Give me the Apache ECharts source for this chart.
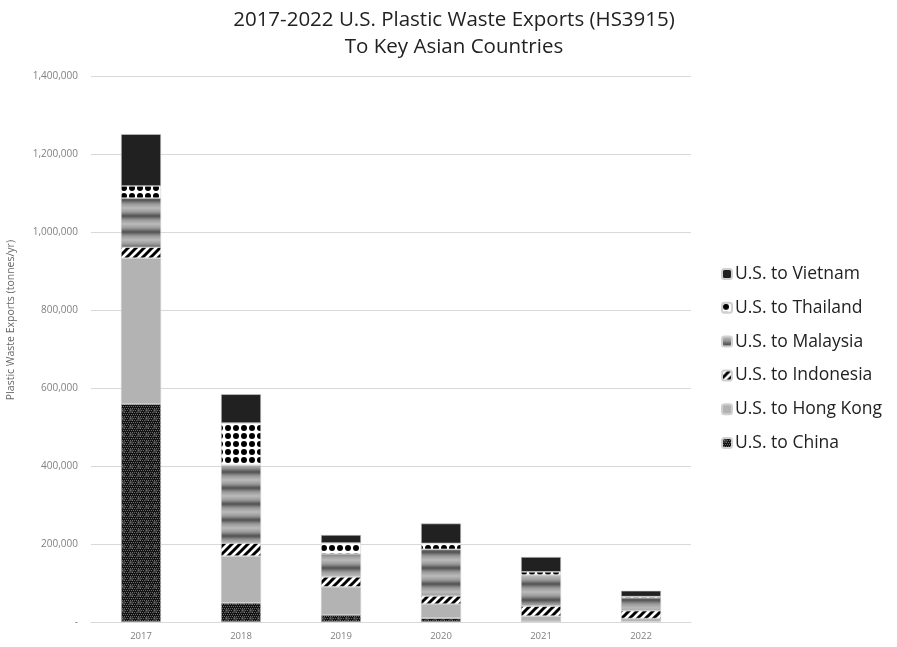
<!DOCTYPE html>
<html>
<head>
<meta charset="utf-8">
<title>2017-2022 U.S. Plastic Waste Exports (HS3915)</title>
<script src="https://cdn.jsdelivr.net/npm/echarts@6/dist/echarts.min.js"></script>
<style>
  html, body { margin: 0; padding: 0; background: #ffffff; }
  #chart { width: 897px; height: 647px; }
</style>
</head>
<body>
<div id="chart"></div>
<script>
// Export years and tonnes per year by destination
const years = ['2017', '2018', '2019', '2020', '2021', '2022'];
const toChina     = [559000,  49000, 18000, 10000,  2000,  1000];
const toHongKong  = [374000, 120000, 72000, 36000, 13000,  8000];
const toIndonesia = [ 28000,  33000, 25600, 20500, 25600, 20000];
const toMalaysia  = [126000, 200000, 59000, 120000, 80000, 33000];
const toThailand  = [ 31000, 108000, 28000, 15000,  8000,  3000];
const toVietnam   = [133000,  74000, 20500, 51000, 38000, 15000];
const yTicks = [0, 200000, 400000, 600000, 800000, 1000000, 1200000, 1400000];

// Fill patterns drawn on small canvases
function tile(w, h, draw) {
  const c = document.createElement('canvas');
  c.width = w; c.height = h;
  draw(c.getContext('2d'), w, h);
  return { image: c, repeat: 'repeat' };
}
const solidDark = '#212121';
const dotted = tile(8, 8, (g, w, h) => {
  g.fillStyle = '#ffffff'; g.fillRect(0, 0, w, h);
  g.fillStyle = '#000000';
  g.beginPath(); g.arc(4, 4, 3, 0, Math.PI * 2); g.fill();
});
const banded = tile(4, 16, (g, w, h) => {
  const gr = g.createLinearGradient(0, 0, 0, h);
  gr.addColorStop(0, '#bababa');
  gr.addColorStop(0.25, '#9a9a9a');
  gr.addColorStop(0.5, '#505050');
  gr.addColorStop(0.75, '#9a9a9a');
  gr.addColorStop(1, '#bababa');
  g.fillStyle = gr; g.fillRect(0, 0, w, h);
});
const hatched = tile(8, 8, (g, w, h) => {
  g.fillStyle = '#ffffff'; g.fillRect(0, 0, w, h);
  g.strokeStyle = '#000000'; g.lineWidth = 3;
  g.beginPath();
  g.moveTo(-2, 10); g.lineTo(10, -2);
  g.moveTo(-6, 6); g.lineTo(6, -6);
  g.moveTo(2, 14); g.lineTo(14, 2);
  g.stroke();
});
const lightGrey = '#b3b3b3';
// dark plaid: black ground with grey speckle blocks
const checkered = tile(8, 8, (g, w, h) => {
  g.fillStyle = '#141414'; g.fillRect(0, 0, w, h);
  g.fillStyle = '#6a6a6a';
  for (let y = 0; y < 8; y += 2) {
    for (let x = (y % 4 === 0 ? 0 : 1); x < 8; x += 2) g.fillRect(x, y, 1, 1);
  }
  g.fillStyle = '#3c3c3c';
  g.fillRect(1, 1, 4, 4);
  g.fillStyle = '#777777';
  g.fillRect(2, 2, 1, 1); g.fillRect(4, 4, 1, 1);
});

function fmt(v) {
  if (v === 0) return '-';
  return String(v).replace(/\B(?=(\d{3})+(?!\d))/g, ',');
}

const seriesDefs = [
  { name: 'U.S. to China', data: toChina, color: checkered },
  { name: 'U.S. to Hong Kong', data: toHongKong, color: lightGrey },
  { name: 'U.S. to Indonesia', data: toIndonesia, color: hatched },
  { name: 'U.S. to Malaysia', data: toMalaysia, color: banded },
  { name: 'U.S. to Thailand', data: toThailand, color: dotted },
  { name: 'U.S. to Vietnam', data: toVietnam, color: solidDark }
];

const font = "'Open Sans', 'Noto Sans', sans-serif";
const chart = echarts.init(document.getElementById('chart'), null, { renderer: 'canvas' });
chart.setOption({
  animation: false,
  backgroundColor: '#ffffff',
  title: {
    text: '2017-2022 U.S. Plastic Waste Exports (HS3915)\nTo Key Asian Countries',
    left: 449, top: 2, textAlign: 'center',
    textStyle: { fontFamily: font, fontSize: 20.5, fontWeight: 'normal', color: '#222222', lineHeight: 27 }
  },
  legend: {
    orient: 'vertical',
    left: 716, top: 258,
    itemWidth: 10, itemHeight: 10, itemGap: 11.8,
    data: seriesDefs.map(s => s.name).reverse(),
    textStyle: { fontFamily: font, fontSize: 17.5, color: '#222222', lineHeight: 22, padding: [0, 0, 0, -2] }
  },
  grid: { left: 91, top: 76, width: 600, height: 546 },
  xAxis: {
    type: 'category',
    data: years,
    axisLine: { lineStyle: { color: '#d9d9d9', width: 1 } },
    axisTick: { show: false },
    axisLabel: { color: '#808080', fontSize: 9.5, fontFamily: font, margin: 9 }
  },
  yAxis: {
    type: 'value',
    min: yTicks[0], max: yTicks[yTicks.length - 1], interval: yTicks[1] - yTicks[0],
    axisLine: { show: false },
    axisTick: { show: false },
    splitLine: { lineStyle: { color: '#d9d9d9', width: 1 } },
    axisLabel: { color: '#808080', fontSize: 10, fontFamily: font, margin: 13, formatter: fmt }
  },
  graphic: [{
    type: 'text',
    left: 6, top: 240,
    rotation: Math.PI / 2,
    style: { text: 'Plastic Waste Exports (tonnes/yr)', fill: '#666666', font: "10.5px 'Open Sans', sans-serif" }
  }],
  series: seriesDefs.map(s => ({
    name: s.name,
    type: 'bar',
    stack: 'total',
    barWidth: 40,
    data: s.data,
    itemStyle: { color: s.color, borderColor: '#d0d0d0', borderWidth: 0.6 }
  }))
});
</script>
</body>
</html>
